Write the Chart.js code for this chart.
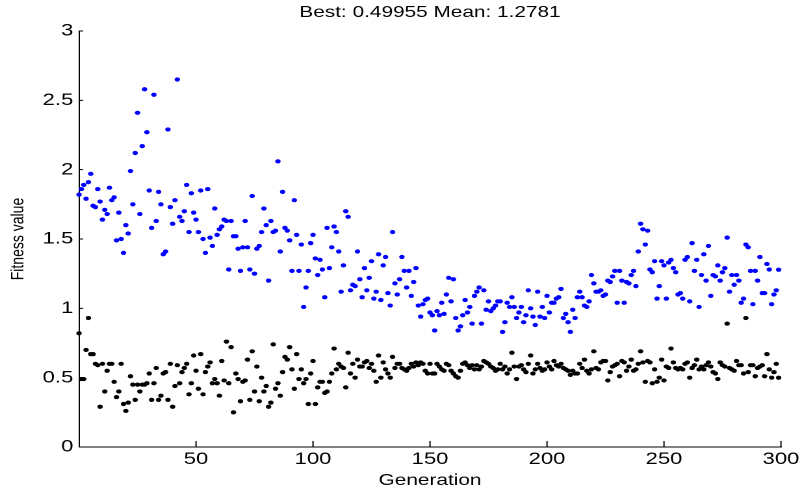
<!DOCTYPE html>
<html>
<head>
<meta charset="utf-8">
<script src="https://cdn.jsdelivr.net/npm/chart.js@4.4.1/dist/chart.umd.min.js"></script>
<style>
  html, body { margin: 0; padding: 0; background: #fff; overflow: hidden; }
  #ga-chart { display: block; transform-origin: 0 0; }
</style>
</head>
<body>
<canvas id="ga-chart" width="617" height="490"></canvas>
<script>
// values, one per generation
const generations = Array.from({ length: 300 }, (_, i) => i);

const meanFitness = [
  1.82, 1.86, 1.89, 1.79, 1.91, 1.97, 1.74, 1.73, 1.86, 1.77, 1.64, 1.71, 1.68, 1.87, 1.78, 1.80, 1.49,
  1.69, 1.50, 1.40, 1.60, 1.54, 1.99, 1.75, 2.12, 2.41, 1.68, 2.17, 2.58, 2.27, 1.85, 1.58, 2.54, 1.63,
  1.84, 1.75, 1.39, 1.41, 2.29, 1.73, 1.61, 1.78, 2.65, 1.66, 1.63, 1.70, 1.89, 1.55, 1.83, 1.69, 1.64,
  1.55, 1.85, 1.50, 1.40, 1.86, 1.51, 1.45, 1.72, 1.53, 1.57, 1.59, 1.64, 1.63, 1.28, 1.63, 1.52, 1.52,
  1.43, 1.27, 1.44, 1.63, 1.44, 1.28, 1.81, 1.25, 1.43, 1.45, 1.55, 1.72, 1.60, 1.20, 1.63, 1.55, 1.56,
  2.06, 1.41, 1.84, 1.58, 1.56, 1.49, 1.27, 1.78, 1.53, 1.27, 1.46, 1.01, 1.15, 1.27, 1.47, 1.53, 1.36,
  1.24, 1.35, 1.28, 1.08, 1.58, 1.29, 1.44, 1.59, 1.55, 1.41, 1.12, 1.31, 1.70, 1.66, 1.13, 1.17, 1.16,
  1.41, 1.21, 1.08, 1.29, 1.13, 1.22, 1.34, 1.07, 1.12, 1.39, 1.06, 1.31, 1.37, 1.11, 1.02, 1.55, 1.18,
  1.10, 1.21, 1.37, 1.27, 1.15, 1.27, 1.09, 1.19, 1.29, 1.02, 0.94, 1.03, 1.06, 1.07, 0.97, 0.95, 0.84,
  0.98, 0.95, 1.04, 0.96, 1.10, 1.22, 1.05, 1.21, 0.93, 0.84, 0.87, 0.95, 1.06, 0.97, 1.01, 0.89, 1.09,
  1.12, 1.15, 0.89, 1.13, 0.99, 1.05, 0.98, 1.00, 1.02, 1.05, 1.05, 0.83, 0.90, 1.04, 1.01, 1.08, 1.01,
  0.93, 0.97, 1.01, 0.90, 0.95, 1.13, 1.00, 0.94, 0.88, 1.12, 0.94, 1.01, 0.93, 1.09, 0.97, 1.04,
  1.04, 1.07, 1.08, 1.14, 0.93, 0.96, 0.90, 0.83, 0.99, 0.93, 1.08, 1.12, 1.08, 1.02, 1.01, 1.05, 1.24,
  1.18, 1.12, 1.12, 1.13, 1.09, 1.10, 1.20, 1.19, 1.23, 1.27, 1.04, 1.27, 1.20, 1.04, 1.19, 1.18, 1.24,
  1.27, 1.16, 1.41, 1.61, 1.57, 1.46, 1.56, 1.28, 1.26, 1.34, 1.07, 1.16, 1.34, 1.31, 1.07, 1.33, 1.35,
  1.29, 1.26, 1.10, 1.11, 1.07, 1.35, 1.37, 1.05, 1.47, 1.27, 1.35, 1.01, 1.24, 1.39, 1.20, 1.45, 1.09,
  1.24, 1.23, 1.31, 1.20, 1.26, 1.29, 1.51, 1.12, 1.24, 1.17, 1.24, 1.20, 1.04, 1.07, 1.46, 1.44, 1.27,
  1.03, 1.27, 1.20, 1.37, 1.11, 1.11, 1.32, 1.28, 1.03, 1.10, 1.13, 1.2781
];

const bestFitness = [
  0.82, 0.49, 0.49, 0.70, 0.93, 0.67, 0.67, 0.60, 0.59, 0.29, 0.60, 0.40, 0.55, 0.60, 0.60, 0.47, 0.36,
  0.40, 0.60, 0.31, 0.26, 0.32, 0.51, 0.45, 0.34, 0.45, 0.40, 0.45, 0.45, 0.46, 0.53, 0.34, 0.46, 0.57,
  0.34, 0.37, 0.53, 0.54, 0.34, 0.60, 0.29, 0.44, 0.59, 0.46, 0.54, 0.57, 0.60, 0.38, 0.46, 0.66, 0.55,
  0.42, 0.67, 0.38, 0.54, 0.58, 0.61, 0.46, 0.49, 0.46, 0.37, 0.62, 0.48, 0.76, 0.46, 0.72, 0.25, 0.53,
  0.49, 0.33, 0.47, 0.48, 0.63, 0.34, 0.69, 0.40, 0.58, 0.33, 0.50, 0.40, 0.44, 0.29, 0.32, 0.74, 0.42,
  0.46, 0.37, 0.54, 0.65, 0.63, 0.72, 0.56, 0.42, 0.67, 0.49, 0.56, 0.46, 0.49, 0.31, 0.53, 0.62, 0.31,
  0.43, 0.47, 0.47, 0.39, 0.40, 0.47, 0.53, 0.71, 0.56, 0.60, 0.58, 0.57, 0.43, 0.68, 0.53, 0.60, 0.50,
  0.63, 0.58, 0.58, 0.61, 0.62, 0.57, 0.60, 0.55, 0.47, 0.66, 0.50, 0.61, 0.56, 0.53, 0.50, 0.65, 0.57,
  0.60, 0.60, 0.57, 0.56, 0.55, 0.57, 0.60, 0.58, 0.61, 0.59, 0.61, 0.60, 0.55, 0.53, 0.60, 0.53,
  0.53, 0.60, 0.58, 0.56, 0.55, 0.60, 0.59, 0.55, 0.53, 0.51, 0.50, 0.55, 0.60, 0.61, 0.59, 0.57, 0.59,
  0.56, 0.59, 0.56, 0.58, 0.62, 0.61, 0.60, 0.58, 0.57, 0.55, 0.56, 0.60, 0.56, 0.58, 0.53, 0.56, 0.68,
  0.58, 0.49, 0.58, 0.59, 0.56, 0.54, 0.60, 0.66, 0.53, 0.56, 0.60, 0.57, 0.55, 0.56, 0.61, 0.58, 0.56,
  0.62, 0.59, 0.58, 0.60, 0.57, 0.56, 0.55, 0.52, 0.55, 0.53, 0.53, 0.60, 0.57, 0.63, 0.55, 0.53, 0.56,
  0.69, 0.57, 0.56, 0.61, 0.62, 0.62, 0.48, 0.54, 0.58, 0.59, 0.60, 0.51, 0.62, 0.61, 0.55, 0.58, 0.63,
  0.55, 0.56, 0.60, 0.69, 0.61, 0.47, 0.62, 0.61, 0.46, 0.56, 0.47, 0.50, 0.63, 0.48, 0.58, 0.57, 0.71,
  0.61, 0.57, 0.56, 0.57, 0.56, 0.60, 0.61, 0.50, 0.57, 0.59, 0.63, 0.56, 0.58, 0.56, 0.59, 0.61, 0.58,
  0.54, 0.53, 0.49, 0.61, 0.59, 0.58, 0.89, 0.57, 0.56, 0.55, 0.62, 0.59, 0.59, 0.53, 0.93, 0.54, 0.59,
  0.59, 0.51, 0.57, 0.58, 0.59, 0.51, 0.67, 0.56, 0.50, 0.54, 0.60, 0.49955
];

const xTicks = [50, 100, 150, 200, 250, 300];
const yTicks = [0, 0.5, 1, 1.5, 2, 2.5, 3];
const titleText = 'Best: 0.49955 Mean: 1.2781';

// the reference looks horizontally stretched, so draw narrow and stretch the canvas
const STRETCH = 802 / 617;
const FONT = '"Liberation Sans", Arial, sans-serif';

function toPoints(values) {
  return values.map((v, i) => ({ x: generations[i], y: v }));
}

// MATLAB style ticks pointing into the plot
const inwardTicks = {
  id: 'inwardTicks',
  afterDraw(chart) {
    const { ctx, chartArea, scales } = chart;
    ctx.save();
    ctx.strokeStyle = '#000';
    ctx.lineWidth = 1;
    ctx.beginPath();
    scales.x.ticks.forEach((t) => {
      const px = scales.x.getPixelForValue(t.value);
      ctx.moveTo(px, chartArea.bottom);
      ctx.lineTo(px, chartArea.bottom - 6);
    });
    scales.y.ticks.forEach((t) => {
      const py = scales.y.getPixelForValue(t.value);
      ctx.moveTo(chartArea.left, py);
      ctx.lineTo(chartArea.left + 3.2, py);
    });
    ctx.stroke();
    ctx.restore();
  }
};

function displayChart() {
  const canvas = document.getElementById('ga-chart');
  canvas.style.transform = `scaleX(${STRETCH})`;

  new Chart(canvas.getContext('2d'), {
    type: 'scatter',
    data: {
      datasets: [{
        label: 'Best fitness',
        data: toPoints(bestFitness),
        backgroundColor: '#000000',
        pointRadius: 2.1,
        pointBorderWidth: 0,
        clip: false
      }, {
        label: 'Mean fitness',
        data: toPoints(meanFitness),
        backgroundColor: '#0000ff',
        pointRadius: 2.1,
        pointBorderWidth: 0,
        clip: false
      }]
    },
    options: {
      responsive: false,
      animation: false,
      devicePixelRatio: 2,
      layout: { padding: { left: 0, right: 14, top: 0, bottom: 0 } },
      plugins: {
        legend: { display: false },
        tooltip: { enabled: false },
        title: {
          display: true,
          text: titleText,
          fullSize: false,
          color: '#000',
          font: { family: FONT, size: 16, weight: 'normal' },
          padding: { top: 3.2, bottom: 8.6 }
        }
      },
      scales: {
        x: {
          type: 'linear',
          min: 0,
          max: 300,
          afterBuildTicks: (scale) => { scale.ticks = xTicks.map((v) => ({ value: v })); },
          afterFit: (scale) => { scale.height = 43; },
          ticks: {
            color: '#000',
            padding: 2,
            maxRotation: 0,
            font: { family: FONT, size: 17 },
            callback: (v) => String(v)
          },
          grid: { display: true, drawOnChartArea: false, drawTicks: false },
          border: { display: true, color: '#000', width: 1 },
          title: {
            display: true,
            text: 'Generation',
            color: '#000',
            font: { family: FONT, size: 16 },
            padding: { top: 0, bottom: 0 }
          }
        },
        y: {
          min: 0,
          max: 3,
          afterBuildTicks: (scale) => { scale.ticks = yTicks.map((v) => ({ value: v })); },
          afterFit: (scale) => { scale.width = 60.8; },
          ticks: {
            color: '#000',
            padding: 4.4,
            font: { family: FONT, size: 17 },
            callback: (v) => String(v)
          },
          grid: { display: true, drawOnChartArea: false, drawTicks: false },
          border: { display: true, color: '#000', width: 1 },
          title: {
            display: true,
            text: 'Fitness value',
            color: '#000',
            font: { family: FONT, size: 14 },
            padding: { top: 5.5, bottom: 0 }
          }
        }
      }
    },
    plugins: [inwardTicks]
  });
}

document.addEventListener('DOMContentLoaded', () => {
  displayChart();
});
</script>
</body>
</html>
